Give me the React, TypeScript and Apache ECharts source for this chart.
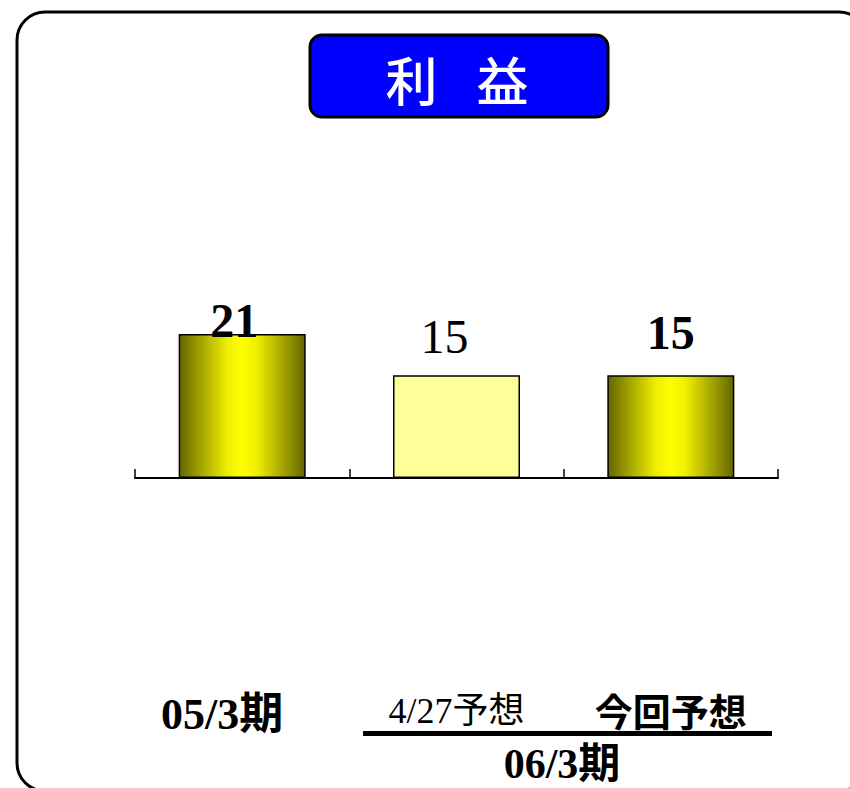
import React, { useEffect, useRef } from "react";
import * as echarts from "echarts";

const titleChars = ["利", "益"];
const categories = ["05/3期", "4/27予想", "今回予想"];
const values = [21, 15, 15];
const groupLabel = "06/3期";

const SERIF = '"Liberation Serif", "Times New Roman", "Noto Sans CJK JP", serif';
const SANS = '"Noto Sans CJK JP", "Noto Sans", sans-serif';

const goldGradient = () =>
  new echarts.graphic.LinearGradient(0, 0, 1, 0, [
    { offset: 0, color: "#666600" },
    { offset: 0.38, color: "#eeee00" },
    { offset: 0.5, color: "#ffff00" },
    { offset: 0.62, color: "#eeee00" },
    { offset: 1, color: "#666600" },
  ]);

export default function App() {
  const ref = useRef<HTMLDivElement>(null);

  useEffect(() => {
    if (!ref.current) return;
    const chart = echarts.init(ref.current, undefined, { renderer: "svg" });

    const catStyles = [
      { fontFamily: SERIF, fontWeight: "bold", fontSize: 44, padding: [2, 40, 0, 0] },
      { fontFamily: SERIF, fontWeight: "normal", fontSize: 36, padding: [3, 0, 0, 0] },
      { fontFamily: SANS, fontWeight: "bold", fontSize: 38, padding: [0, 0, 0, 0] },
    ];

    const labelCfg = [
      { fontWeight: "bold", offset: [-8, 10] },
      { fontWeight: "normal", offset: [-12, -15] },
      { fontWeight: "bold", offset: [0, -19] },
    ];

    const barData = values.map((v, i) => ({
      value: v,
      itemStyle:
        i === 1
          ? { color: "#ffff99", borderColor: "#000", borderWidth: 1.5 }
          : { color: goldGradient(), borderColor: "#000", borderWidth: 1.5 },
      label: {
        show: true,
        position: "top",
        distance: 0,
        fontFamily: SERIF,
        fontSize: 48,
        color: "#000",
        fontWeight: labelCfg[i].fontWeight,
        offset: labelCfg[i].offset,
      },
    }));

    chart.setOption({
      animation: false,
      backgroundColor: "#fff",
      grid: { left: 135, right: 72, top: 238, bottom: 310 },
      xAxis: {
        type: "category",
        data: categories.map((c, i) => ({ value: c, textStyle: catStyles[i] })),
        boundaryGap: true,
        axisLine: { show: true, lineStyle: { color: "#000", width: 2 } },
        axisTick: { show: true, inside: true, length: 9, lineStyle: { color: "#000", width: 1.5 } },
        axisLabel: { interval: 0, margin: 212, color: "#000" },
        splitLine: { show: false },
      },
      yAxis: { type: "value", min: 0, max: 35, show: false },
      series: [
        {
          type: "bar",
          barWidth: 127,
          data: barData,
        },
      ],
      graphic: [
        {
          type: "rect",
          shape: { x: 17, y: 12, width: 850, height: 779, r: 28 },
          style: { fill: "none", stroke: "#000", lineWidth: 3 },
          silent: true,
        },
        {
          type: "rect",
          shape: { x: 310, y: 35, width: 298, height: 82, r: 12 },
          style: { fill: "#0000ff", stroke: "#000", lineWidth: 3 },
        },
        {
          type: "text",
          x: 411.5,
          y: 78,
          style: {
            text: titleChars[0],
            fill: "#fff",
            font: `500 52px ${SANS}`,
            align: "center",
            verticalAlign: "middle",
          },
        },
        {
          type: "text",
          x: 502.5,
          y: 78,
          style: {
            text: titleChars[1],
            fill: "#fff",
            font: `500 52px ${SANS}`,
            align: "center",
            verticalAlign: "middle",
          },
        },
        {
          type: "line",
          shape: { x1: 363, y1: 733.5, x2: 772, y2: 733.5 },
          style: { stroke: "#000", lineWidth: 5 },
        },
        {
          type: "text",
          x: 562,
          y: 764,
          style: {
            text: groupLabel,
            fill: "#000",
            font: `bold 42px ${SERIF}`,
            align: "center",
            verticalAlign: "middle",
          },
        },
      ],
    });

    return () => chart.dispose();
  }, []);

  return (
    <div
      ref={ref}
      style={{ position: "absolute", left: 0, top: 0, width: 850, height: 788 }}
    />
  );
}
